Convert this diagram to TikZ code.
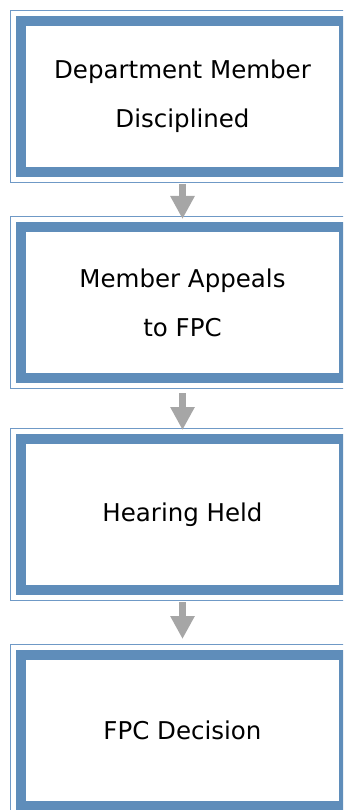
\documentclass[tikz,border=0pt]{standalone}
\usepackage{fontspec}
\setmainfont{DejaVu Sans}
\usetikzlibrary{arrows.meta}
\definecolor{thickblue}{HTML}{5F8DBA}
\definecolor{thinblue}{HTML}{6F99C6}
\definecolor{arrowgray}{HTML}{A6A6A6}
\tikzset{
  outerbox/.style={draw=thinblue, line width=1pt, minimum width=341.5pt, minimum height=172pt, inner sep=0pt},
  stepbox/.style={draw=thickblue, line width=10pt, minimum width=323pt, minimum height=151pt, inner sep=0pt, align=center, font=\fontsize{24.5}{49}\selectfont},
  flowarrow/.style={draw=arrowgray, line width=7pt, -{Triangle[width=23pt,length=23pt]}}
}
\begin{document}
\begin{tikzpicture}[x=1pt,y=-1pt]
\useasboundingbox (0,0) rectangle (343,810);
\begin{scope}
\clip (0,0) rectangle (343,810);
\node[outerbox] (o1) at (181.25,96.5) {};
\node[outerbox] (o2) at (181.25,302.5) {};
\node[outerbox] (o3) at (181.25,514.5) {};
\node[outerbox] (o4) at (181.25,730.5) {};
\node[stepbox] (b1) at (182.5,96.5) {Department Member\\Disciplined};
\node[stepbox] (b2) at (182.5,302.5) {Member Appeals\\to FPC};
\node[stepbox] (b3) at (182.5,514.5) {Hearing Held};
\node[stepbox] (b4) at (182.5,730.5) {FPC Decision};
\draw[flowarrow, shorten <=1pt, shorten >=-3pt] (o1.south -| b1.center) -- (o2.north -| b1.center);
\draw[flowarrow, shorten <=4pt, shorten >=-2pt] (o2.south -| b1.center) -- (o3.north -| b1.center);
\draw[flowarrow, shorten <=1pt, shorten >=5pt] (o3.south -| b1.center) -- (o4.north -| b1.center);
\end{scope}
\end{tikzpicture}
\end{document}
